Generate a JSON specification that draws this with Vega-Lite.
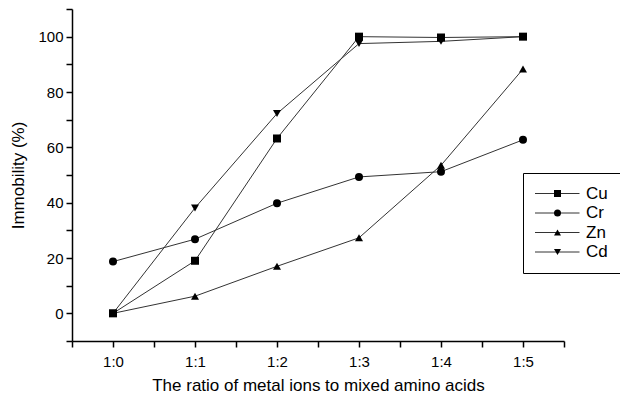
{
  "$schema": "https://vega.github.io/schema/vega-lite/v6.json",
  "width": 492,
  "height": 332,
  "autosize": {"type": "none"},
  "padding": {"left": 72, "top": 9, "right": 56, "bottom": 56},
  "background": "white",
  "config": {"view": {"stroke": null}, "font": "Liberation Sans"},
  "data": {
    "values": [
      {"metal": "Cu", "ratio": 0, "immobility": 0},
      {"metal": "Cu", "ratio": 1, "immobility": 19},
      {"metal": "Cu", "ratio": 2, "immobility": 63.2},
      {"metal": "Cu", "ratio": 3, "immobility": 100},
      {"metal": "Cu", "ratio": 4, "immobility": 99.7},
      {"metal": "Cu", "ratio": 5, "immobility": 100},
      {"metal": "Cr", "ratio": 0, "immobility": 18.7},
      {"metal": "Cr", "ratio": 1, "immobility": 26.8},
      {"metal": "Cr", "ratio": 2, "immobility": 39.8},
      {"metal": "Cr", "ratio": 3, "immobility": 49.3},
      {"metal": "Cr", "ratio": 4, "immobility": 51.2},
      {"metal": "Cr", "ratio": 5, "immobility": 62.7},
      {"metal": "Zn", "ratio": 0, "immobility": 0},
      {"metal": "Zn", "ratio": 1, "immobility": 6.2},
      {"metal": "Zn", "ratio": 2, "immobility": 17},
      {"metal": "Zn", "ratio": 3, "immobility": 27.3},
      {"metal": "Zn", "ratio": 4, "immobility": 53.5},
      {"metal": "Zn", "ratio": 5, "immobility": 88.3},
      {"metal": "Cd", "ratio": 0, "immobility": 0},
      {"metal": "Cd", "ratio": 1, "immobility": 38.1},
      {"metal": "Cd", "ratio": 2, "immobility": 72.2},
      {"metal": "Cd", "ratio": 3, "immobility": 97.5},
      {"metal": "Cd", "ratio": 4, "immobility": 98.3},
      {"metal": "Cd", "ratio": 5, "immobility": 100}
    ]
  },
  "encoding": {
    "x": {
      "field": "ratio",
      "type": "quantitative",
      "scale": {"domain": [-0.5, 5.5], "nice": false, "zero": false},
      "axis": {
        "title": "The ratio of metal ions to mixed amino acids",
        "values": [-0.5, 0, 0.5, 1, 1.5, 2, 2.5, 3, 3.5, 4, 4.5, 5, 5.5],
        "labelExpr": "datum.value % 1 === 0 ? '1:' + datum.value : ''",
        "grid": false,
        "domainColor": "black",
        "domainWidth": 1.5,
        "tickColor": "black",
        "tickWidth": 1.5,
        "tickSize": 6,
        "labelFontSize": 15,
        "labelColor": "black",
        "labelPadding": 7,
        "labelFlush": false,
        "labelOverlap": false,
        "titleFontSize": 17,
        "titleFontWeight": "normal",
        "titleColor": "black",
        "titlePadding": 8
      }
    },
    "y": {
      "field": "immobility",
      "type": "quantitative",
      "scale": {"domain": [-10, 110], "nice": false, "zero": false},
      "axis": {
        "title": "Immobility (%)",
        "values": [-10, 0, 10, 20, 30, 40, 50, 60, 70, 80, 90, 100, 110],
        "labelExpr": "datum.value >= 0 && datum.value <= 100 && datum.value % 20 === 0 ? datum.label : ''",
        "grid": false,
        "domainColor": "black",
        "domainWidth": 1.5,
        "tickColor": "black",
        "tickWidth": 1.5,
        "tickSize": 6,
        "labelFontSize": 15,
        "labelColor": "black",
        "labelPadding": 3,
        "labelFlush": false,
        "labelOverlap": false,
        "titleFontSize": 17,
        "titleFontWeight": "normal",
        "titleColor": "black",
        "titlePadding": 10
      }
    }
  },
  "layer": [
    {
      "mark": {"type": "line", "strokeWidth": 1},
      "encoding": {
        "color": {
          "field": "metal",
          "type": "nominal",
          "scale": {"domain": ["Cu", "Cr", "Zn", "Cd"], "range": ["#333", "#333", "#333", "#333"]},
          "legend": {
            "title": null,
            "orient": "none",
            "legendX": 451,
            "legendY": 164,
            "padding": 12,
            "strokeColor": "black",
            "fillColor": "white",
            "labelFontSize": 17,
            "labelColor": "black",
            "symbolType": "stroke",
            "symbolSize": 2500,
            "symbolStrokeWidth": 1,
            "symbolOffset": -6,
            "labelOffset": 6,
            "clipHeight": 17,
            "rowPadding": 1.5
          }
        }
      }
    },
    {
      "mark": {"type": "point", "filled": true, "size": 64, "opacity": 1, "color": "black"},
      "encoding": {
        "shape": {
          "field": "metal",
          "type": "nominal",
          "scale": {"domain": ["Cu", "Cr", "Zn", "Cd"], "range": ["square", "circle", "triangle-up", "triangle-down"]},
          "legend": {
            "title": null,
            "orient": "none",
            "legendX": 451,
            "legendY": 164,
            "padding": 12,
            "strokeColor": null,
            "fillColor": null,
            "labelFontSize": 17,
            "labelExpr": "''",
            "symbolSize": 49,
            "symbolOffset": 14,
            "labelOffset": 6,
            "clipHeight": 17,
            "rowPadding": 1.5
          }
        }
      }
    }
  ],
  "resolve": {"scale": {"color": "independent", "shape": "independent"}}
}
